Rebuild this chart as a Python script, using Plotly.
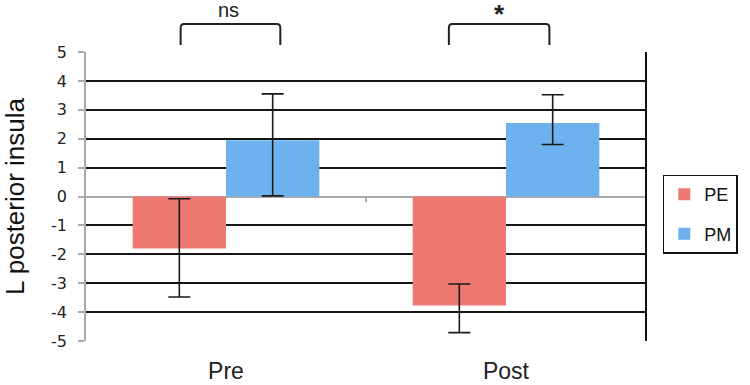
import plotly.graph_objects as go

categories = ["Pre", "Post"]
pe_values = [-1.80, -3.77]
pe_err_plus = [1.72, 0.74]
pe_err_minus = [1.68, 0.94]
pm_values = [1.95, 2.54]
pm_err_plus = [1.60, 0.98]
pm_err_minus = [1.93, 0.74]
y_ticks = list(range(-5, 6))

FONT = "Liberation Sans"
TICKFONT = "DejaVu Sans"
x_pos = list(range(len(categories)))

fig = go.Figure()
fig.add_trace(go.Bar(
    x=x_pos, y=pe_values, name="PE", width=1/3, offset=-1/3,
    marker=dict(color="#ee7872", line=dict(width=0)),
    error_y=dict(type="data", array=pe_err_plus, arrayminus=pe_err_minus,
                 color="#1a1a1a", thickness=1.6, width=11),
    legendgroup="a",
))
fig.add_trace(go.Bar(
    x=x_pos, y=pm_values, name="PM", width=1/3, offset=0,
    marker=dict(color="#6db2ee", line=dict(width=0)),
    error_y=dict(type="data", array=pm_err_plus, arrayminus=pm_err_minus,
                 color="#1a1a1a", thickness=1.6, width=11),
    legendgroup="b",
))

# significance brackets (paper y: plot top = 1.0, 289 px tall)
def bracket(x0, x1):
    y0, y1, ry, rx = 1.024, 1.097, 0.014, 0.012
    return (f"M {x0} {y0} L {x0} {y1 - ry} Q {x0} {y1} {x0 + rx} {y1} "
            f"L {x1 - rx} {y1} Q {x1} {y1} {x1} {y1 - ry} L {x1} {y0}")

shapes = [
    dict(type="path", xref="x", yref="paper", path=bracket(-0.162, 0.194),
         line=dict(color="#222", width=2)),
    dict(type="path", xref="x", yref="paper", path=bracket(0.796, 1.155),
         line=dict(color="#222", width=2)),
    # right border of plot frame
    dict(type="line", xref="paper", yref="paper", x0=1, x1=1, y0=0, y1=1,
         line=dict(color="#111", width=2)),
    # category separator tick on the zero line
    dict(type="line", xref="x", yref="y", x0=0.5, x1=0.5, y0=0, y1=-0.2,
         line=dict(color="#999", width=1.5)),
]

annotations = [
    dict(x=0.01, y=1.145, xref="x", yref="paper", text="ns", showarrow=False,
         font=dict(size=20, color="#222", family=FONT), yanchor="middle"),
    dict(x=0.977, y=1.19, xref="x", yref="paper", text="<b>*</b>", showarrow=False,
         font=dict(size=26, color="#222", family=FONT), yanchor="top"),
]

fig.update_layout(
    width=750, height=385,
    margin=dict(l=86, r=96, t=52, b=44),
    paper_bgcolor="white", plot_bgcolor="white",
    font=dict(family=FONT, color="#222"),
    barmode="overlay",
    showlegend=True,
    legend=dict(x=1.03, y=0.576, xanchor="left", yanchor="top",
                bordercolor="#111", borderwidth=1.5,
                font=dict(size=18, family=FONT, color="#111"),
                traceorder="grouped", tracegroupgap=13,
                itemwidth=30),
    shapes=shapes, annotations=annotations,
    xaxis=dict(range=[-0.5, 1.5], tickvals=x_pos, ticktext=categories,
               showgrid=False, zeroline=False, showline=False, automargin=False,
               tickfont=dict(size=23, family=FONT, color="#222"),
               ticklabelstandoff=14),
    yaxis=dict(range=[-5, 5], tickvals=y_ticks, ticktext=[str(v) for v in y_ticks],
               showgrid=True, gridcolor="#151515", gridwidth=1.8,
               zeroline=True, zerolinecolor="#aaa", zerolinewidth=1.5,
               showline=True, linecolor="#aaa", linewidth=1.5, automargin=False,
               ticks="outside", ticklen=6, tickcolor="#aaa", tickwidth=1.5,
               tickfont=dict(size=16, family=TICKFONT, color="#222"),
               ticklabelstandoff=8,
               title=dict(text="L posterior insula", standoff=20,
                          font=dict(size=26, family=FONT, color="#111"))),
)

# remove the browser's default 8px page margin so the figure sits at (0, 0)
fig.write_html("out.html", config={"displayModeBar": False},
               post_script="document.body.style.margin='0';")
